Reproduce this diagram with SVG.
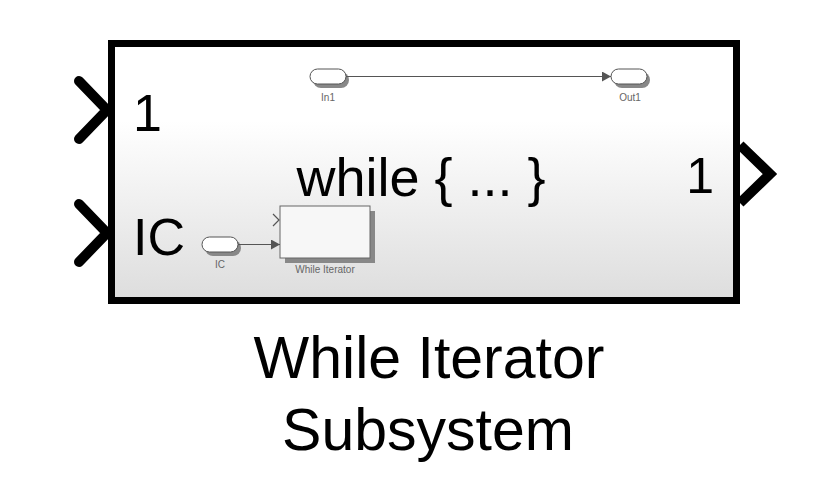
<svg xmlns="http://www.w3.org/2000/svg" width="813" height="491" viewBox="0 0 813 491">
  <defs>
    <linearGradient id="bg" x1="0" y1="0" x2="0" y2="1">
      <stop offset="0" stop-color="#ffffff"/>
      <stop offset="0.3" stop-color="#ffffff"/>
      <stop offset="1" stop-color="#dddddd"/>
    </linearGradient>
    <marker id="arr" markerWidth="10" markerHeight="10" refX="9" refY="5" orient="auto" markerUnits="userSpaceOnUse">
      <path d="M0,0 L9,5 L0,10 z" fill="#555"/>
    </marker>
  </defs>
  <style>
    .big { font-family: "Liberation Sans", Arial, sans-serif; fill: #000; }
    .small { font-family: "Liberation Sans", Arial, sans-serif; fill: #666; font-size: 10px; text-anchor: middle; }
    .pill { fill: #ffffff; stroke: #555; stroke-width: 1; }
    .shadow { fill: #888; }
    .wire { stroke: #555; stroke-width: 1; fill: none; }
    .inport { fill: none; stroke: #000; stroke-width: 10; stroke-linecap: round; stroke-linejoin: miter; }
    .outport { fill: none; stroke: #000; stroke-width: 10; stroke-linecap: butt; stroke-linejoin: miter; }
  </style>
  <rect width="813" height="491" fill="#ffffff"/>

  <g id="subsystem">
    <rect x="111.5" y="43.5" width="625" height="257" fill="url(#bg)" stroke="#000" stroke-width="7"/>
    <polyline class="inport" points="79,81 107,110 79,139"/>
    <polyline class="inport" points="79,204 107,233 79,262"/>
    <polyline class="outport" points="740,145 770,174 740,203"/>
    <text class="big" x="133" y="131" font-size="52">1</text>
    <text class="big" x="133" y="255" font-size="52">IC</text>
    <text class="big" x="714" y="193" font-size="50" text-anchor="end">1</text>
    <text class="big" x="421" y="196" font-size="54" text-anchor="middle">while { ... }</text>
  </g>

  <g id="in1">
    <rect class="shadow" x="313" y="72" width="36" height="16" rx="8"/>
    <rect class="pill" x="310" y="69" width="36" height="15" rx="7.5"/>
    <text class="small" x="328" y="101">In1</text>
  </g>
  <g id="out1">
    <rect class="shadow" x="614" y="72" width="36" height="16" rx="8"/>
    <rect class="pill" x="611" y="69" width="36" height="15" rx="7.5"/>
    <text class="small" x="630" y="101">Out1</text>
  </g>
  <g id="ic">
    <rect class="shadow" x="205" y="240" width="36" height="16" rx="8"/>
    <rect class="pill" x="202" y="237" width="36" height="15" rx="7.5"/>
    <text class="small" x="220" y="268">IC</text>
  </g>
  <g id="while_iterator">
    <rect class="shadow" x="285" y="211" width="90" height="52"/>
    <rect x="280" y="206" width="90" height="52" fill="#f7f7f7" stroke="#666" stroke-width="1"/>
    <polyline points="273,214 279,220 273,226" fill="none" stroke="#555" stroke-width="1.2"/>
    <text class="small" x="325" y="273">While Iterator</text>
  </g>

  <g id="connectors">
    <line class="wire" x1="346" y1="76.5" x2="611" y2="76.5" marker-end="url(#arr)"/>
    <line class="wire" x1="238" y1="244.5" x2="280" y2="244.5" marker-end="url(#arr)"/>
  </g>

  <g id="label">
    <text class="big" x="429" y="378" font-size="59" text-anchor="middle">While Iterator</text>
    <text class="big" x="428" y="450" font-size="59" text-anchor="middle">Subsystem</text>
  </g>
</svg>
